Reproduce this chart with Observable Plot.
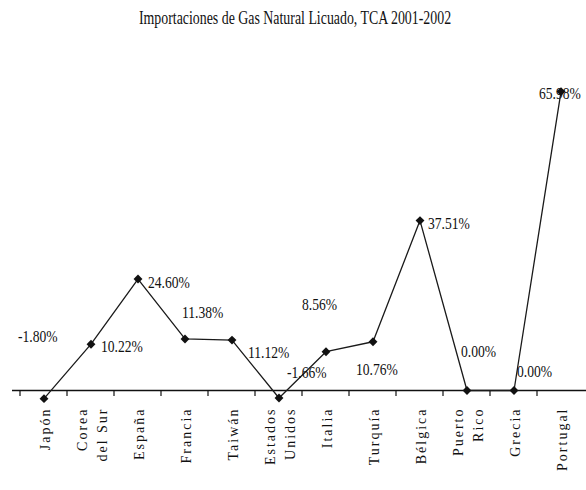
<!DOCTYPE html>
<html>
<head>
<meta charset="utf-8">
<script src="https://cdn.jsdelivr.net/npm/d3@7"></script>
<script src="https://cdn.jsdelivr.net/npm/@observablehq/plot@0.6"></script>
<style>
  body { margin: 0; background: #fff; }
  #title { position: relative; width: 586px; height: 40px; font-family: "Liberation Serif", serif; font-size: 18.5px; color: #111; }
  #title span { position: absolute; left: 295px; top: 8px; white-space: nowrap; transform: translateX(-50%) scaleX(0.75); }
</style>
</head>
<body>
<div id="title"><span>Importaciones de Gas Natural Licuado, TCA 2001-2002</span></div>
<div id="chart"></div>
<script>
// Importing countries (two-line names split with \n)
const countries = ["Japón", "Corea\ndel Sur", "España", "Francia", "Taiwán", "Estados\nUnidos",
                   "Italia", "Turquía", "Bélgica", "Puerto\nRico", "Grecia", "Portugal"];
// Annual growth rate (TCA) 2001-2002, percent
const growth = [-1.80, 10.22, 24.60, 11.38, 11.12, -1.66, 8.56, 10.76, 37.51, 0.00, 0.00, 65.98];
// Offsets of each value label from its marker, in pixels
const labelDx = [-26, 10, 10, -3, 16, 8, -24, -17, 8, -6, 3, -22];
const labelDy = [-62, 2, 3, -26, 12, -25, -47, 28, 3, -39, -19, 2];

const rows = countries.map((country, i) => ({country, value: growth[i], dx: labelDx[i], dy: labelDy[i]}));
const pct = v => v.toFixed(2) + "%";

const valueLabels = rows.map(r => Plot.text([r], {
  x: "country", y: "value", text: d => pct(d.value),
  dx: r.dx, dy: r.dy, textAnchor: "start", fontSize: 17, fill: "#111"
}));

const chart = Plot.plot({
  width: 586,
  height: 450,
  margin: 0,
  style: {fontFamily: "'Liberation Serif', serif", background: "#fff"},
  x: {type: "band", domain: countries, range: [14, 589], padding: 0, axis: null},
  y: {domain: [0, 66], range: [350, 51], axis: null},
  marks: [
    // zero axis and category boundary ticks
    Plot.ruleY([0], {stroke: "#111", strokeWidth: 1.7, insetLeft: 12}),
    Plot.ruleX(countries, {x: d => d, y1: 0, y2: 0, dx: -24, insetBottom: -6, stroke: "#111", strokeWidth: 1.2}),
    Plot.line(rows, {x: "country", y: "value", stroke: "#1a1a1a", strokeWidth: 1.3}),
    Plot.dot(rows, {x: "country", y: "value", symbol: "diamond2", r: 4, fill: "#111", stroke: "none"}),
    ...valueLabels,
    Plot.text(rows, {
      x: "country", y: () => 0, text: "country", rotate: -90, textAnchor: "end",
      lineAnchor: "middle", lineHeight: 1.4, dy: 17, fontSize: 14, fill: "#111"
    })
  ]
});
document.getElementById("chart").appendChild(chart);

chart.querySelectorAll("text").forEach(t => {
  const tr = t.getAttribute("transform") || "";
  if (tr.includes("rotate")) {
    // country names: larger, spaced-out lettering
    t.style.fontSize = "14px";
    t.style.letterSpacing = "2px";
  } else if (t.textContent.endsWith("%")) {
    // value labels: narrowed horizontally around their anchor point
    if (tr.includes("translate")) {
      t.setAttribute("transform", tr + " scale(0.8,1)");
    } else {
      const x = +t.getAttribute("x") || 0, y = +t.getAttribute("y") || 0;
      t.removeAttribute("x"); t.removeAttribute("y");
      t.setAttribute("transform", `translate(${x},${y}) scale(0.8,1)`);
    }
  }
});
</script>
</body>
</html>
